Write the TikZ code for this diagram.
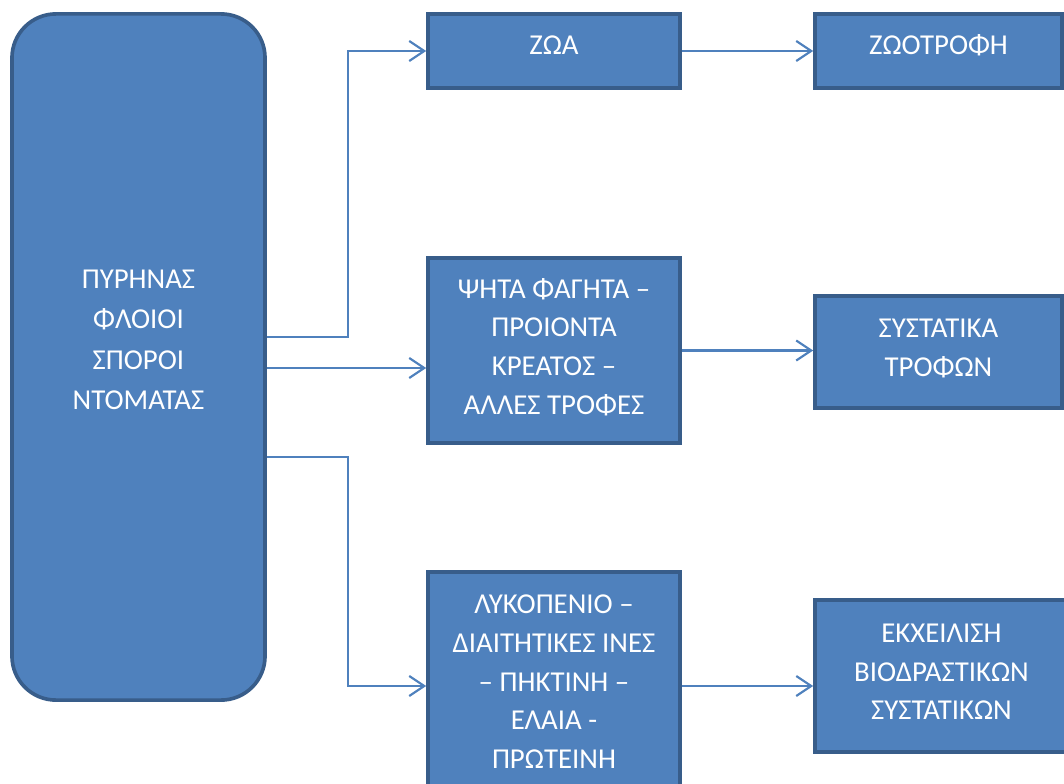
\documentclass[tikz,border=0pt]{standalone}
\usepackage{fontspec}
\setmainfont{Carlito}
\usetikzlibrary{arrows.meta,positioning,calc}
\definecolor{boxfill}{RGB}{79,129,189}
\definecolor{boxline}{RGB}{56,93,138}
\definecolor{linkcol}{RGB}{79,129,189}
\tikzset{
  core/.style={draw=boxline,fill=boxfill,line width=2.6pt,rounded corners=1.1cm,text=white,inner sep=0pt,
               minimum width=6.325cm,minimum height=17.15cm,font=\fontsize{20.5}{28.5}\selectfont},
  box/.style ={draw=boxline,fill=boxfill,line width=2.6pt,text=white,align=center,inner sep=0pt,text depth=6pt,
               font=\fontsize{20.5}{27.5}\selectfont},
  link/.style={draw=linkcol,line width=1.5pt,-{Straight Barb[length=0.375cm,width=0.5cm]}},
}
\begin{document}
\begin{tikzpicture}[x=0.025cm,y=-0.025cm]
  \useasboundingbox (0,0) rectangle (1064,783);
  \node[core] (core) at (138.5,357) {\raisebox{0.4cm}[\height][\depth]{\begin{tabular}{@{}c@{}}ΠΥΡΗΝΑΣ\\ΦΛΟΙΟΙ\\ΣΠΟΡΟΙ\\ΝΤΟΜΑΤΑΣ\end{tabular}}};
  \node[box,minimum width=6.3cm,minimum height=1.85cm,text depth=9pt] (zoa) at (554,51) {ΖΩΑ};
  \node[box,minimum width=6.3cm,minimum height=4.625cm] (food) at (554,350.5) {ΨΗΤΑ ΦΑΓΗΤΑ –\\ΠΡΟΙΟΝΤΑ\\ΚΡΕΑΤΟΣ –\\ΑΛΛΕΣ ΤΡΟΦΕΣ};
  \node[box,minimum width=6.3cm,minimum height=5.7cm] (bio) at (554,686) {ΛΥΚΟΠΕΝΙΟ –\\ΔΙΑΙΤΗΤΙΚΕΣ ΙΝΕΣ\\– ΠΗΚΤΙΝΗ –\\ΕΛΑΙΑ -\\ΠΡΩΤΕΙΝΗ};
  \node[box,minimum width=6.175cm,minimum height=1.85cm,text depth=9pt] (feed) at (938.5,51) {ΖΩΟΤΡΟΦΗ};
  \node[box,minimum width=6.175cm,minimum height=2.8cm] (nutr) at (938.5,352) {ΣΥΣΤΑΤΙΚΑ\\ΤΡΟΦΩΝ};
  \node[box,minimum width=6.325cm,minimum height=3.8cm] (release) at (941.5,676) {ΕΚΧΕΙΛΙΣΗ\\ΒΙΟΔΡΑΣΤΙΚΩΝ\\ΣΥΣΤΑΤΙΚΩΝ};
  \coordinate (c1) at ([yshift=0.5cm]core.east);
  \coordinate (c2) at ([yshift=-0.275cm]core.east);
  \coordinate (c3) at ([yshift=-2.5cm]core.east);
  \draw[link] (c1) -- ++(81,0) |- (zoa.west);
  \draw[link] (c2) -- (c2 -| food.west);
  \draw[link] (c3) -- ++(81,0) |- (bio.west);
  \draw[link] (zoa) -- (feed);
  \draw[link] (food) -- (food -| nutr.west);
  \draw[link] (bio) -- (bio -| release.west);
\end{tikzpicture}
\end{document}
